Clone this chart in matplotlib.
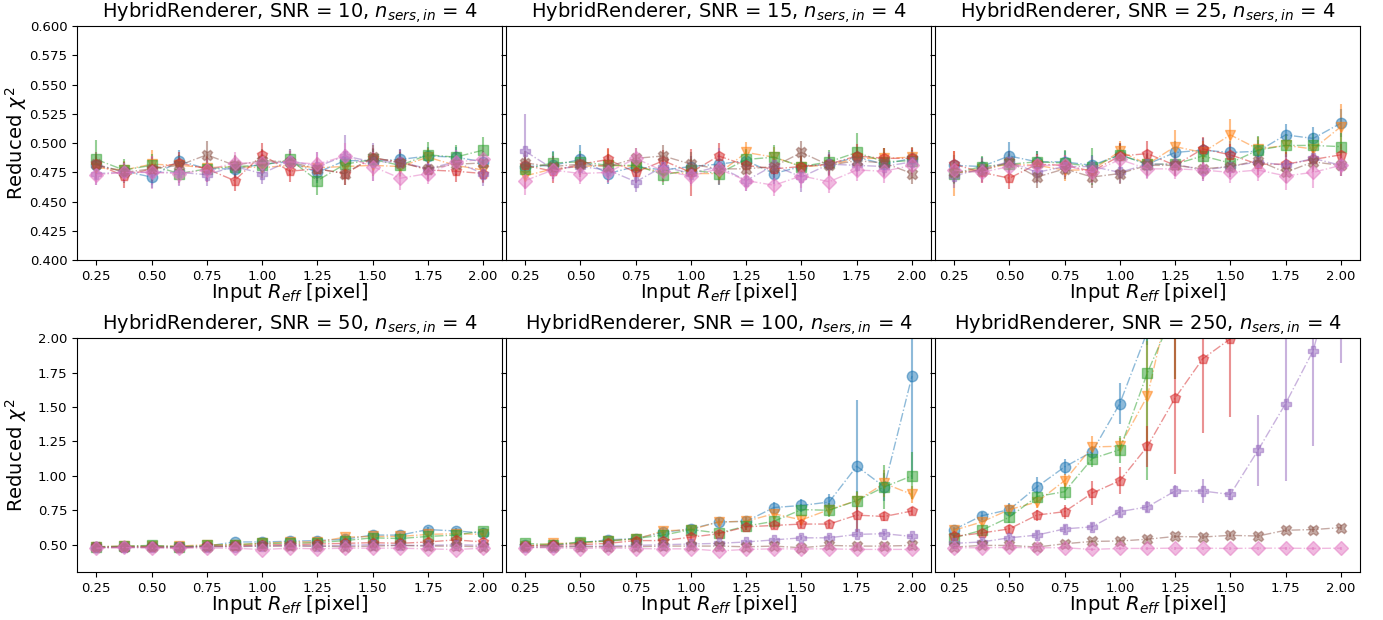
import numpy as np
import matplotlib
matplotlib.use("Agg")
import matplotlib.pyplot as plt

# Input effective radius grid [pixel]
r_eff = [0.25, 0.375, 0.5, 0.625, 0.75, 0.875, 1.0, 1.125, 1.25, 1.375, 1.5, 1.625, 1.75, 1.875, 2.0]

snr_levels = [10, 15, 25, 50, 100, 250]
markers = ["o", "v", "s", "p", "P", "X", "D"]

# Reduced chi^2 per fitted-model series (rows) for each SNR
snr10_chi2 = [
    [0.481, 0.476, 0.471, 0.485, 0.478, 0.478, 0.482, 0.484, 0.475, 0.485, 0.485, 0.486, 0.489, 0.488, 0.484],
    [0.479, 0.477, 0.482, 0.481, 0.479, 0.480, 0.479, 0.481, 0.479, 0.480, 0.481, 0.480, 0.488, 0.481, 0.477],
    [0.486, 0.477, 0.481, 0.474, 0.478, 0.480, 0.481, 0.486, 0.468, 0.482, 0.486, 0.481, 0.490, 0.488, 0.494],
    [0.482, 0.472, 0.478, 0.483, 0.478, 0.468, 0.490, 0.476, 0.478, 0.474, 0.487, 0.484, 0.477, 0.476, 0.474],
    [0.474, 0.475, 0.475, 0.475, 0.473, 0.480, 0.474, 0.485, 0.480, 0.489, 0.484, 0.484, 0.478, 0.484, 0.474],
    [0.482, 0.475, 0.478, 0.481, 0.490, 0.481, 0.485, 0.484, 0.478, 0.474, 0.488, 0.483, 0.478, 0.482, 0.483],
    [0.473, 0.475, 0.475, 0.474, 0.477, 0.483, 0.483, 0.484, 0.482, 0.489, 0.480, 0.470, 0.474, 0.484, 0.486],
]
snr10_err = [
    [0.008, 0.007, 0.009, 0.009, 0.008, 0.008, 0.009, 0.009, 0.009, 0.010, 0.010, 0.009, 0.008, 0.009, 0.009],
    [0.009, 0.008, 0.012, 0.009, 0.009, 0.008, 0.009, 0.008, 0.009, 0.010, 0.009, 0.009, 0.008, 0.009, 0.010],
    [0.017, 0.009, 0.010, 0.008, 0.009, 0.009, 0.009, 0.009, 0.012, 0.010, 0.009, 0.009, 0.011, 0.010, 0.011],
    [0.009, 0.010, 0.011, 0.009, 0.011, 0.009, 0.010, 0.009, 0.009, 0.010, 0.009, 0.010, 0.009, 0.009, 0.008],
    [0.010, 0.008, 0.011, 0.012, 0.010, 0.009, 0.009, 0.010, 0.012, 0.018, 0.016, 0.011, 0.010, 0.010, 0.011],
    [0.010, 0.009, 0.010, 0.009, 0.012, 0.009, 0.010, 0.009, 0.009, 0.010, 0.010, 0.009, 0.009, 0.009, 0.010],
    [0.009, 0.008, 0.014, 0.010, 0.010, 0.009, 0.009, 0.010, 0.010, 0.011, 0.012, 0.010, 0.009, 0.010, 0.011],
]

snr15_chi2 = [
    [0.480, 0.481, 0.486, 0.474, 0.480, 0.477, 0.480, 0.482, 0.485, 0.474, 0.480, 0.482, 0.488, 0.482, 0.487],
    [0.472, 0.478, 0.480, 0.481, 0.480, 0.475, 0.474, 0.474, 0.492, 0.488, 0.480, 0.481, 0.487, 0.487, 0.488],
    [0.478, 0.483, 0.484, 0.481, 0.481, 0.473, 0.477, 0.474, 0.486, 0.488, 0.480, 0.484, 0.492, 0.484, 0.485],
    [0.481, 0.476, 0.482, 0.486, 0.475, 0.485, 0.475, 0.489, 0.481, 0.478, 0.480, 0.482, 0.489, 0.487, 0.487],
    [0.493, 0.478, 0.480, 0.477, 0.467, 0.480, 0.474, 0.480, 0.468, 0.481, 0.471, 0.482, 0.481, 0.480, 0.484],
    [0.483, 0.480, 0.482, 0.480, 0.487, 0.489, 0.482, 0.478, 0.478, 0.480, 0.492, 0.481, 0.485, 0.483, 0.474],
    [0.468, 0.477, 0.474, 0.475, 0.487, 0.476, 0.472, 0.478, 0.468, 0.464, 0.472, 0.467, 0.477, 0.476, 0.481],
]
snr15_err = [
    [0.008, 0.012, 0.012, 0.009, 0.009, 0.008, 0.009, 0.009, 0.009, 0.009, 0.009, 0.009, 0.009, 0.009, 0.010],
    [0.010, 0.009, 0.009, 0.014, 0.009, 0.008, 0.009, 0.009, 0.009, 0.009, 0.009, 0.009, 0.010, 0.009, 0.009],
    [0.009, 0.009, 0.009, 0.010, 0.009, 0.009, 0.009, 0.010, 0.009, 0.010, 0.009, 0.010, 0.017, 0.012, 0.009],
    [0.009, 0.010, 0.009, 0.010, 0.009, 0.009, 0.020, 0.011, 0.009, 0.010, 0.009, 0.009, 0.010, 0.009, 0.009],
    [0.032, 0.009, 0.009, 0.010, 0.009, 0.009, 0.009, 0.016, 0.009, 0.010, 0.013, 0.010, 0.009, 0.009, 0.009],
    [0.010, 0.009, 0.009, 0.009, 0.009, 0.009, 0.010, 0.009, 0.009, 0.009, 0.010, 0.009, 0.009, 0.009, 0.009],
    [0.012, 0.009, 0.009, 0.009, 0.009, 0.009, 0.009, 0.009, 0.009, 0.009, 0.010, 0.010, 0.009, 0.010, 0.009],
]

snr25_chi2 = [
    [0.481, 0.480, 0.489, 0.484, 0.484, 0.481, 0.490, 0.482, 0.492, 0.494, 0.492, 0.493, 0.507, 0.504, 0.517],
    [0.474, 0.478, 0.482, 0.481, 0.477, 0.477, 0.493, 0.482, 0.497, 0.492, 0.507, 0.495, 0.498, 0.495, 0.514],
    [0.474, 0.480, 0.482, 0.484, 0.483, 0.480, 0.490, 0.482, 0.482, 0.489, 0.483, 0.494, 0.498, 0.498, 0.497],
    [0.482, 0.475, 0.470, 0.482, 0.481, 0.476, 0.489, 0.491, 0.481, 0.495, 0.490, 0.482, 0.482, 0.486, 0.490],
    [0.472, 0.478, 0.484, 0.475, 0.480, 0.480, 0.475, 0.482, 0.482, 0.477, 0.480, 0.484, 0.481, 0.487, 0.481],
    [0.475, 0.476, 0.484, 0.471, 0.478, 0.471, 0.474, 0.481, 0.481, 0.478, 0.480, 0.485, 0.475, 0.484, 0.481],
    [0.477, 0.475, 0.480, 0.481, 0.481, 0.475, 0.486, 0.478, 0.478, 0.477, 0.475, 0.477, 0.472, 0.475, 0.481],
]
snr25_err = [
    [0.009, 0.008, 0.012, 0.009, 0.009, 0.009, 0.010, 0.009, 0.010, 0.010, 0.010, 0.010, 0.009, 0.010, 0.012],
    [0.019, 0.009, 0.009, 0.009, 0.009, 0.009, 0.009, 0.009, 0.014, 0.010, 0.014, 0.010, 0.010, 0.010, 0.019],
    [0.009, 0.009, 0.009, 0.009, 0.011, 0.016, 0.009, 0.009, 0.009, 0.010, 0.009, 0.012, 0.010, 0.011, 0.012],
    [0.011, 0.009, 0.009, 0.009, 0.009, 0.009, 0.011, 0.011, 0.009, 0.010, 0.009, 0.009, 0.010, 0.009, 0.009],
    [0.010, 0.009, 0.009, 0.009, 0.009, 0.009, 0.009, 0.012, 0.010, 0.009, 0.009, 0.009, 0.010, 0.009, 0.009],
    [0.009, 0.009, 0.009, 0.009, 0.009, 0.009, 0.009, 0.009, 0.009, 0.009, 0.009, 0.009, 0.009, 0.009, 0.009],
    [0.009, 0.009, 0.009, 0.009, 0.009, 0.009, 0.009, 0.009, 0.009, 0.009, 0.009, 0.009, 0.012, 0.013, 0.009],
]

snr50_chi2 = [
    [0.480, 0.485, 0.490, 0.485, 0.490, 0.520, 0.520, 0.525, 0.530, 0.540, 0.570, 0.570, 0.610, 0.600, 0.585],
    [0.485, 0.490, 0.490, 0.490, 0.500, 0.500, 0.510, 0.520, 0.520, 0.555, 0.560, 0.560, 0.575, 0.580, 0.575],
    [0.485, 0.490, 0.495, 0.485, 0.495, 0.500, 0.510, 0.510, 0.515, 0.530, 0.550, 0.545, 0.560, 0.570, 0.600],
    [0.480, 0.480, 0.485, 0.475, 0.490, 0.490, 0.500, 0.500, 0.505, 0.510, 0.515, 0.510, 0.520, 0.535, 0.520],
    [0.480, 0.480, 0.480, 0.480, 0.485, 0.485, 0.490, 0.495, 0.490, 0.495, 0.500, 0.495, 0.495, 0.500, 0.495],
    [0.480, 0.485, 0.480, 0.485, 0.485, 0.490, 0.490, 0.490, 0.490, 0.485, 0.490, 0.495, 0.490, 0.490, 0.485],
    [0.475, 0.480, 0.475, 0.475, 0.475, 0.475, 0.465, 0.475, 0.470, 0.475, 0.475, 0.475, 0.470, 0.465, 0.475],
]
snr50_err = [
    [0.010, 0.010, 0.010, 0.010, 0.010, 0.012, 0.012, 0.012, 0.012, 0.014, 0.015, 0.015, 0.020, 0.020, 0.020],
    [0.010, 0.010, 0.010, 0.010, 0.010, 0.012, 0.012, 0.012, 0.012, 0.014, 0.015, 0.015, 0.020, 0.018, 0.020],
    [0.010, 0.010, 0.010, 0.010, 0.010, 0.012, 0.012, 0.012, 0.012, 0.014, 0.015, 0.015, 0.020, 0.018, 0.022],
    [0.010, 0.010, 0.010, 0.010, 0.010, 0.010, 0.012, 0.012, 0.012, 0.012, 0.014, 0.014, 0.015, 0.016, 0.016],
    [0.010, 0.010, 0.010, 0.010, 0.010, 0.010, 0.010, 0.010, 0.010, 0.010, 0.010, 0.010, 0.012, 0.012, 0.012],
    [0.010, 0.010, 0.010, 0.010, 0.010, 0.010, 0.010, 0.010, 0.010, 0.010, 0.010, 0.010, 0.010, 0.010, 0.010],
    [0.010, 0.010, 0.010, 0.010, 0.010, 0.010, 0.010, 0.010, 0.010, 0.010, 0.010, 0.010, 0.010, 0.010, 0.010],
]

snr100_chi2 = [
    [0.495, 0.495, 0.515, 0.535, 0.545, 0.590, 0.615, 0.665, 0.670, 0.770, 0.785, 0.810, 1.070, 0.920, 1.725],
    [0.490, 0.510, 0.510, 0.530, 0.540, 0.600, 0.610, 0.665, 0.670, 0.725, 0.680, 0.755, 0.820, 0.945, 0.865],
    [0.510, 0.500, 0.520, 0.525, 0.545, 0.570, 0.610, 0.585, 0.635, 0.670, 0.755, 0.750, 0.820, 0.920, 1.000],
    [0.490, 0.495, 0.500, 0.510, 0.530, 0.530, 0.555, 0.580, 0.630, 0.640, 0.650, 0.650, 0.715, 0.705, 0.745],
    [0.480, 0.485, 0.490, 0.490, 0.495, 0.500, 0.505, 0.510, 0.520, 0.535, 0.550, 0.550, 0.575, 0.580, 0.560],
    [0.480, 0.485, 0.485, 0.485, 0.485, 0.490, 0.490, 0.490, 0.485, 0.490, 0.478, 0.495, 0.490, 0.490, 0.495],
    [0.478, 0.478, 0.472, 0.478, 0.472, 0.470, 0.470, 0.455, 0.466, 0.470, 0.470, 0.470, 0.466, 0.466, 0.466],
]
snr100_err = [
    [0.010, 0.010, 0.012, 0.014, 0.014, 0.020, 0.022, 0.030, 0.030, 0.040, 0.045, 0.060, 0.480, 0.100, 0.750],
    [0.010, 0.010, 0.012, 0.014, 0.014, 0.020, 0.022, 0.025, 0.030, 0.035, 0.035, 0.050, 0.060, 0.100, 0.060],
    [0.010, 0.010, 0.012, 0.014, 0.014, 0.020, 0.022, 0.025, 0.030, 0.035, 0.040, 0.050, 0.070, 0.160, 0.170],
    [0.010, 0.010, 0.012, 0.012, 0.014, 0.015, 0.018, 0.020, 0.025, 0.025, 0.030, 0.030, 0.120, 0.030, 0.030],
    [0.010, 0.010, 0.010, 0.010, 0.010, 0.012, 0.012, 0.014, 0.014, 0.016, 0.018, 0.018, 0.020, 0.020, 0.020],
    [0.010, 0.010, 0.010, 0.010, 0.010, 0.010, 0.010, 0.010, 0.010, 0.010, 0.010, 0.012, 0.012, 0.012, 0.012],
    [0.010, 0.010, 0.010, 0.010, 0.010, 0.010, 0.010, 0.010, 0.010, 0.010, 0.010, 0.010, 0.010, 0.010, 0.010],
]

snr250_chi2 = [
    [0.610, 0.710, 0.755, 0.920, 1.065, 1.175, 1.525, 2.050, 2.600, 3.200, 3.900, 4.600, 5.400, 6.200, 7.000],
    [0.605, 0.665, 0.755, 0.810, 0.965, 1.210, 1.215, 1.580, 2.450, 3.100, 3.800, 4.500, 5.200, 6.000, 6.800],
    [0.550, 0.605, 0.700, 0.850, 0.885, 1.125, 1.190, 1.750, 2.210, 2.900, 3.600, 4.300, 5.000, 5.800, 6.600],
    [0.560, 0.585, 0.615, 0.715, 0.740, 0.875, 0.965, 1.215, 1.565, 1.850, 1.995, 2.600, 3.100, 3.600, 4.200],
    [0.510, 0.520, 0.550, 0.570, 0.615, 0.630, 0.740, 0.775, 0.890, 0.890, 0.865, 1.185, 1.525, 1.910, 2.660],
    [0.483, 0.495, 0.495, 0.483, 0.507, 0.524, 0.527, 0.540, 0.560, 0.556, 0.568, 0.563, 0.605, 0.610, 0.624],
    [0.478, 0.478, 0.480, 0.478, 0.478, 0.466, 0.473, 0.473, 0.475, 0.475, 0.473, 0.475, 0.475, 0.473, 0.475],
]
snr250_err = [
    [0.020, 0.030, 0.050, 0.070, 0.060, 0.040, 0.150, 0.100, 0.400, 0.500, 0.600, 0.600, 0.700, 0.800, 0.800],
    [0.020, 0.030, 0.040, 0.040, 0.050, 0.080, 0.060, 0.400, 0.750, 0.500, 0.600, 0.600, 0.700, 0.800, 0.800],
    [0.020, 0.030, 0.040, 0.040, 0.060, 0.060, 0.100, 0.780, 0.510, 0.500, 0.600, 0.600, 0.700, 0.800, 0.800],
    [0.020, 0.020, 0.030, 0.040, 0.050, 0.090, 0.100, 0.150, 0.550, 0.540, 0.570, 0.500, 0.600, 0.600, 0.700],
    [0.015, 0.020, 0.020, 0.030, 0.030, 0.030, 0.040, 0.040, 0.040, 0.085, 0.040, 0.260, 0.560, 0.690, 0.840],
    [0.010, 0.010, 0.010, 0.010, 0.010, 0.012, 0.012, 0.014, 0.014, 0.014, 0.014, 0.014, 0.016, 0.016, 0.016],
    [0.010, 0.010, 0.010, 0.010, 0.010, 0.010, 0.010, 0.010, 0.010, 0.010, 0.010, 0.010, 0.010, 0.010, 0.010],
]

panel_values = [snr10_chi2, snr15_chi2, snr25_chi2, snr50_chi2, snr100_chi2, snr250_chi2]
panel_errors = [snr10_err, snr15_err, snr25_err, snr50_err, snr100_err, snr250_err]

fig = plt.figure(figsize=(13.83, 6.20), dpi=100)
gs = fig.add_gridspec(2, 3, left=0.0557, right=0.9835, top=0.958, bottom=0.077,
                      wspace=0.008, hspace=0.333)
axes = []
for row in range(2):
    first = None
    for col in range(3):
        ax = fig.add_subplot(gs[row, col], sharey=first)
        if first is None:
            first = ax
        axes.append(ax)

colors = plt.rcParams["axes.prop_cycle"].by_key()["color"]

for i, ax in enumerate(axes):
    vals = panel_values[i]
    errs = panel_errors[i]
    for k in range(7):
        ax.errorbar(r_eff, vals[k], yerr=errs[k], fmt=markers[k], linestyle="-.",
                    color=colors[k], alpha=0.5, markersize=7.5, linewidth=1.0,
                    elinewidth=1.5, capsize=0)
    ax.set_title(f"HybridRenderer, SNR = {snr_levels[i]}, $n_{{sers, in}}$ = 4", fontsize=14)
    ax.set_xlabel(r"Input $R_{eff}$ [pixel]", fontsize=14)
    ax.xaxis.set_label_coords(0.5, -0.09)
    ax.set_xticks([0.25, 0.5, 0.75, 1.0, 1.25, 1.5, 1.75, 2.0])
    ax.tick_params(labelsize=9.5)
    if i % 3 == 0:
        ax.set_ylabel(r"Reduced $\chi^2$", fontsize=14)
        ax.yaxis.set_label_coords(-0.112, 0.5)
    else:
        ax.tick_params(axis="y", labelleft=False)

axes[0].set_ylim(0.4, 0.6)
axes[0].set_yticks(np.arange(0.4, 0.6001, 0.025))
axes[3].set_ylim(0.3, 2.0)
axes[3].set_yticks([0.5, 0.75, 1.0, 1.25, 1.5, 1.75, 2.0])

fig.savefig("out.png", dpi=100)
